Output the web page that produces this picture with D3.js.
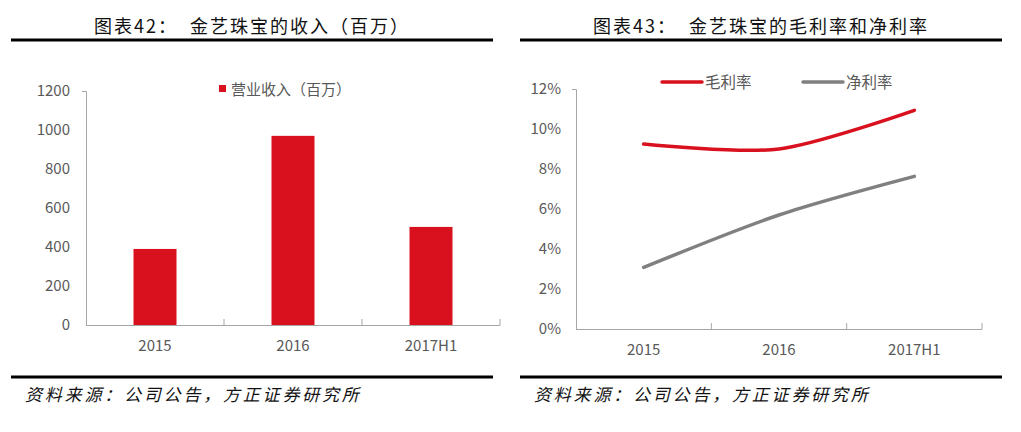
<!DOCTYPE html>
<html><head><meta charset="utf-8">
<script src="https://cdn.jsdelivr.net/npm/d3@7"></script>
<style>
html,body{margin:0;padding:0;background:#fff;}
svg text{font-family:"Noto Sans CJK SC","Noto Sans",sans-serif;}
</style></head>
<body><svg id="c" width="1021" height="432"></svg>
<script>
const categories = ["2015", "2016", "2017H1"];
const revenue = [390, 970, 503];
const revenueTicks = [0, 200, 400, 600, 800, 1000, 1200];
const grossMargin = [9.25, 9.0, 10.93];
const netMargin = [3.08, 5.7, 7.63];
const pctTicks = [0, 2, 4, 6, 8, 10, 12];
const titleLeft = "图表42：  金艺珠宝的收入（百万）";
const titleRight = "图表43：  金艺珠宝的毛利率和净利率";
const legendLeft = "营业收入（百万）";
const legendRight = ["毛利率", "净利率"];
const sourceText = "资料来源：公司公告，方正证券研究所";

const svg = d3.select("#c");
const RED = "#d9101e", GRAY = "#808080", AX = "#a6a6a6", TXT = "#595959";

function frame(x0, x1, title) {
  svg.append("text").attr("x", (x0 + x1) / 2).attr("y", 33).attr("text-anchor", "middle")
    .attr("font-size", 18).attr("letter-spacing", 2).attr("fill", "#111")
    .style("white-space", "pre").attr("xml:space", "preserve").text(title);
  svg.append("rect").attr("x", x0).attr("y", 38.5).attr("width", x1 - x0).attr("height", 3).attr("fill", "#000");
  svg.append("rect").attr("x", x0).attr("y", 375.5).attr("width", x1 - x0).attr("height", 3).attr("fill", "#000");
  svg.append("text").attr("x", x0 + 14).attr("y", 401).attr("font-size", 17).attr("letter-spacing", 2.8)
    .attr("font-style", "italic").attr("fill", "#111").text(sourceText);
}
frame(11, 493, titleLeft);
frame(520, 1002, titleRight);

function axes(g, x, y, ticks, fmt, pad) {
  const ya = g.append("g").attr("transform", `translate(${x.range()[0]},0)`)
    .call(d3.axisLeft(y).tickValues(ticks).tickSize(4).tickPadding(pad).tickFormat(fmt));
  ya.select(".domain").attr("stroke", AX).attr("d", `M-4,${y.range()[1]+0.5}H0.5V${y.range()[0]}`);
  ya.selectAll(".tick line").attr("stroke", "none");
  ya.selectAll("text").attr("fill", TXT).attr("font-size", 15).attr("font-family", "Lato, 'Noto Sans', sans-serif");
  const xa = g.append("g").attr("transform", `translate(0,${y.range()[0]})`)
    .call(d3.axisBottom(x).tickSize(0).tickPadding(15));
  xa.select(".domain").attr("stroke", AX).attr("d", `M${x.range()[0]},0.5H${x.range()[1]}V-6`);
  xa.selectAll("text").attr("fill", TXT).attr("font-size", 15).attr("font-family", "Lato, 'Noto Sans', sans-serif");
  g.selectAll(null).data(x.domain().slice(1)).join("line")
    .attr("x1", d => x(d)).attr("x2", d => x(d))
    .attr("y1", y.range()[0]).attr("y2", y.range()[0] - 6).attr("stroke", AX);
}

// Left chart
const gL = svg.append("g");
const xL = d3.scaleBand().domain(categories).range([86, 500]).paddingInner(0).paddingOuter(0);
const yL = d3.scaleLinear().domain([0, 1200]).range([325, 91]);
axes(gL, xL, yL, revenueTicks, d3.format("d"), 12);
gL.selectAll(".bar").data(categories).join("rect").attr("class", "bar")
  .attr("x", d => xL(d) + xL.bandwidth() / 2 - 21.5).attr("width", 43)
  .attr("y", (d, i) => yL(revenue[i])).attr("height", (d, i) => yL(0) - yL(revenue[i]))
  .attr("fill", RED);
gL.append("rect").attr("x", 219).attr("y", 85).attr("width", 7).attr("height", 7).attr("fill", RED);
gL.append("text").attr("x", 231).attr("y", 94.5).attr("font-size", 15).attr("fill", TXT).text(legendLeft);

// Right chart
const gR = svg.append("g");
const xR = d3.scaleBand().domain(categories).range([576, 982]).paddingInner(0).paddingOuter(0);
const yR = d3.scaleLinear().domain([0, 12]).range([329, 89]);
axes(gR, xR, yR, pctTicks, d => d + "%", 11);
const cx = d => xR(d) + xR.bandwidth() / 2;
const line = vals => d3.line().x((d, i) => cx(categories[i])).y(d => yR(d)).curve(d3.curveCardinal.tension(0.15))(vals);
gR.append("path").attr("d", line(grossMargin)).attr("fill", "none").attr("stroke", RED).attr("stroke-width", 3.5).attr("stroke-linecap", "round");
gR.append("path").attr("d", line(netMargin)).attr("fill", "none").attr("stroke", GRAY).attr("stroke-width", 3.5).attr("stroke-linecap", "round");
[[662, RED, 0], [803, GRAY, 1]].forEach(([lx, c, i]) => {
  gR.append("line").attr("x1", lx).attr("x2", lx + 40).attr("y1", 82).attr("y2", 82)
    .attr("stroke", c).attr("stroke-width", 3.5).attr("stroke-linecap", "round");
  gR.append("text").attr("x", lx + 43).attr("y", 87.5).attr("font-size", 15.5).attr("fill", TXT).text(legendRight[i]);
});
</script></body></html>
